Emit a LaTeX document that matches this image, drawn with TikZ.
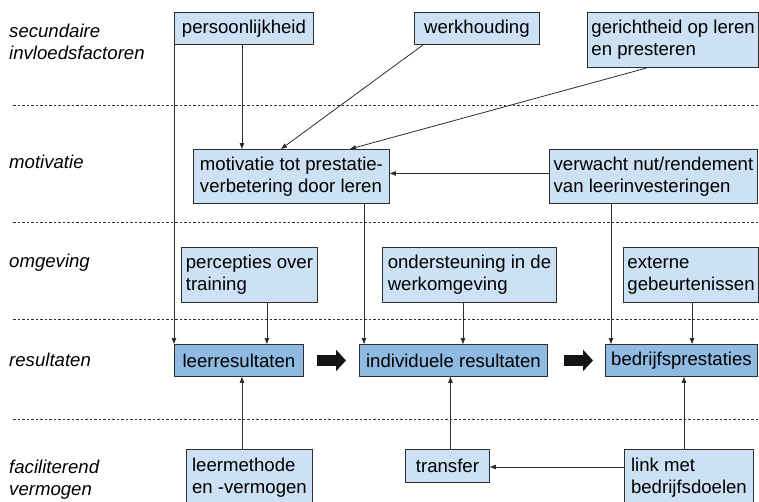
\documentclass[tikz,border=0pt]{standalone}
\usepackage{fontspec}
\setmainfont{Liberation Sans}
\usetikzlibrary{arrows.meta,calc}
\definecolor{lb}{RGB}{204,225,244}
\definecolor{db}{RGB}{143,187,226}
\definecolor{ln}{RGB}{45,45,45}
\begin{document}
\begin{tikzpicture}[x=1pt,y=-1pt,
 font=\fontsize{18.6}{22}\selectfont,
 box/.style={draw=ln, line width=0.9pt, fill=lb, inner xsep=4pt, inner ysep=2pt, anchor=north west, align=left},
 res/.style={box, fill=db},
 lab/.style={anchor=base west, inner sep=0pt, font=\fontsize{18.6}{22}\selectfont\itshape},
 arr/.style={draw=ln, line width=0.8pt, -{Triangle[length=6pt,width=4.5pt]}},
 sep/.style={draw=ln, line width=0.7pt, dash pattern=on 2.5pt off 2pt},
 big/.style={draw=black!92, line width=11pt, -{Triangle[length=10pt,width=21pt]}}]
\useasboundingbox (0,0) rectangle (759,501);
\clip (0,0) rectangle (759,501);

% separators
\draw[sep] (13,105) -- (759,105);
\draw[sep] (13,222) -- (759,222);
\draw[sep] (13,319) -- (759,319);
\draw[sep] (13,419) -- (759,419);

% row labels
\node[lab] (l1a) at (9,37) {secundaire};
\node[lab] (l1b) at (9,59) {invloedsfactoren};
\node[lab] (l2) at (9,168) {motivatie};
\node[lab] (l3) at (9,267) {omgeving};
\node[lab] (l4) at (9,366) {resultaten};
\node[lab] (l5a) at (9,473) {faciliterend};
\node[lab] (l5b) at (9,495) {vermogen};

% boxes
\node[box, minimum width=139pt, minimum height=32pt] (pers) at (174,12) {persoonlijkheid};
\node[box, minimum width=125pt, minimum height=32pt] (werk) at (414,12) {werkhouding};
\node[box, minimum width=170pt, minimum height=55pt] (ger) at (587,12) {gerichtheid op leren\\en presteren};
\node[box, minimum width=196pt, minimum height=54pt] (mot) at (193,149) {motivatie tot prestatie-\\verbetering door leren};
\node[box, minimum width=208pt, minimum height=54pt] (verw) at (549,149) {verwacht nut/rendement\\van leerinvesteringen};
\node[box, minimum width=136pt, minimum height=55pt] (perc) at (181,247) {percepties over\\training};
\node[box, minimum width=174pt, minimum height=55pt] (ond) at (382,247) {ondersteuning in de\\werkomgeving};
\node[box, minimum width=134pt, minimum height=55pt] (ext) at (623,247) {externe\\gebeurtenissen};
\node[res, minimum width=129pt, minimum height=32pt] (leer) at (174,344) {leerresultaten};
\node[res, minimum width=188pt, minimum height=32pt] (ind) at (359,344) {individuele resultaten};
\node[res, minimum width=152pt, minimum height=32pt] (bed) at (605,344) {bedrijfsprestaties};
\node[box, minimum width=126pt, minimum height=57pt] (lm) at (186,449) {leermethode\\en -vermogen};
\node[box, minimum width=84pt, minimum height=33pt] (tr) at (405,449) {transfer};
\node[box, minimum width=129pt, minimum height=57pt] (link) at (624,449) {link met\\bedrijfsdoelen};

% connectors
\draw[arr] (pers.south west) -- (leer.north west);
\draw[arr] ([xshift=-2pt]pers.south) -- ([xshift=-2pt]pers.south |- mot.north);
\draw[arr] ([xshift=9pt]werk.south west) -- ([xshift=88pt]mot.north west);
\draw[arr] ([xshift=60pt]ger.south west) -- ([xshift=157pt]mot.north west);
\draw[arr] ([yshift=3pt]verw.west) -- ([yshift=3pt]verw.west -| mot.east);
\draw[arr] ([xshift=5pt]ind.north west |- mot.south) -- ([xshift=5pt]ind.north west);
\draw[arr] ([xshift=6pt]bed.north west |- verw.south) -- ([xshift=6pt]bed.north west);
\draw[arr] ([xshift=-51pt]perc.south east) -- ([xshift=-51pt]perc.south east |- leer.north);
\draw[arr] ([xshift=81pt]ond.south west) -- ([xshift=81pt]ond.south west |- ind.north);
\draw[arr] ([xshift=1pt]ext.south) -- ([xshift=1pt]ext.south |- bed.north);
\draw[arr] ([xshift=56pt]lm.north west) -- ([xshift=56pt]lm.north west |- leer.south);
\draw[arr] ([xshift=3pt]tr.north) -- ([xshift=3pt]tr.north |- ind.south);
\draw[arr] ([xshift=60pt]link.north west) -- ([xshift=60pt]link.north west |- bed.south);
\draw[arr] ([yshift=-1pt]tr.east -| link.west) -- ([yshift=-1pt]tr.east);

% thick arrows
\draw[big] ([xshift=13pt]leer.east) -- ([xshift=-13pt]ind.west);
\draw[big] ([xshift=16pt]ind.east) -- ([xshift=-12pt]bed.west);
\end{tikzpicture}
\end{document}
